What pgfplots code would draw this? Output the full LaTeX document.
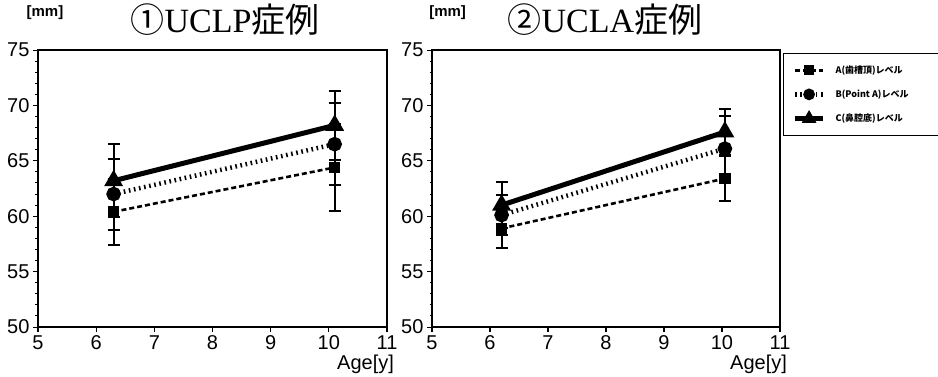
\documentclass[border=0pt]{standalone}
\usepackage{pgfplots}
\pgfplotsset{compat=1.18}
\usepackage{fontspec}
\setmainfont{Liberation Sans}
\newfontfamily\jp{Noto Sans CJK JP}
\newfontfamily\serif{Liberation Serif}
\begin{document}
\begin{tikzpicture}
\useasboundingbox (0pt,0pt) rectangle (938pt,376pt);
\pgfplotsset{
  myax/.style={
    scale only axis, width=349pt, height=277pt,
    xmin=5, xmax=11, ymin=50, ymax=75,
    xtick={5,6,...,11}, ytick={50,55,...,75},
    minor y tick num=4,
    tick label style={font=\fontsize{20}{20}\selectfont},
    /pgf/number format/assume math mode=true,
    xtick pos=bottom, ytick pos=left,
    xtick style={line width=1.2pt, black}, ytick style={line width=1pt,black},
    axis line style={line width=1.4pt},
    tick align=outside, major tick length=5pt, minor tick length=2.5pt,
    xlabel={Age[y]},
    xlabel style={at={(axis description cs:1.03,-0.088)}, anchor=north east, font=\fontsize{20}{20}\selectfont},
    clip=false,
  },
  serA/.style={black, line width=2.6pt, dash pattern=on 5pt off 3pt, mark=square*, mark size=4.5pt, mark options={solid},
     error bars/.cd, y dir=both, y explicit, error bar style={line width=2pt, solid}, error mark options={rotate=90, mark size=6pt, line width=2pt}},
  serB/.style={black, line width=4.5pt, dash pattern=on 1.6pt off 3.6pt, mark=*, mark size=5pt, mark options={solid},
     error bars/.cd, y dir=both, y explicit, error bar style={line width=2pt, solid}, error mark options={rotate=90, mark size=6pt, line width=2pt}},
  serC/.style={black, line width=5pt, mark=triangle*, mark size=6pt, mark options={solid},
     error bars/.cd, y dir=both, y explicit, error bar style={line width=2pt, solid}, error mark options={rotate=90, mark size=6pt, line width=2pt}},
}
% ---- Left: UCLP
\begin{axis}[myax, at={(38pt,49pt)}, anchor=south west,
  title={{\jp ①}{\serif UCLP}{\jp 症例}},
  title style={at={(axis description cs:0.536,1.018)}, anchor=south, font=\fontsize{34}{34}\selectfont},
]
\node[anchor=base, font=\fontsize{15}{15}\selectfont\bfseries] at (axis description cs:0.02,1.12) {[mm]};
\addplot+[serA] table[x=x,y=y,y error=e] {
x y e
6.3 60.4 3.0
10.1 64.4 3.9
};
\addplot+[serB] table[x=x,y=y,y error=e] {
x y e
6.3 62.0 3.2
10.1 66.5 3.7
};
\addplot+[serC] table[x=x,y=y,y error=e] {
x y e
6.3 63.2 3.3
10.1 68.2 3.1
};
\end{axis}
% ---- Right: UCLA
\begin{axis}[myax, at={(432pt,49pt)}, anchor=south west, width=348pt,
  title={{\jp ②}{\serif UCLA}{\jp 症例}},
  title style={at={(axis description cs:0.497,1.018)}, anchor=south, font=\fontsize{34}{34}\selectfont},
  legend style={at={(axis description cs:1.0086,0.989)}, anchor=north west, draw=black, line width=1.2pt,
     font=\fontsize{9}{9}\selectfont\jp\bfseries, row sep=11pt, inner xsep=9pt, inner ysep=10pt,
     legend cell align=left, /tikz/every odd column/.append style={column sep=8pt}},
  legend image code/.code={
     \draw[mark repeat=2,mark phase=2,#1] plot coordinates {(0pt,0pt) (14pt,0pt) (28pt,0pt)};},
  legend image post style={mark size=3.5pt},
]
\node[anchor=base, font=\fontsize{15}{15}\selectfont\bfseries] at (axis description cs:0.045,1.12) {[mm]};
\addplot+[serA] table[x=x,y=y,y error=e] {
x y e
6.2 58.9 1.8
10.05 63.4 2.0
};
\addlegendentry{\makebox[100pt][l]{A(歯槽頂)レベル}}
\addplot+[serB] table[x=x,y=y,y error=e] {
x y e
6.2 60.1 1.8
10.05 66.1 2.9
};
\addlegendentry{\makebox[100pt][l]{B(Point A)レベル}}
\addplot+[serC] table[x=x,y=y,y error=e] {
x y e
6.2 61.0 2.1
10.05 67.6 2.1
};
\addlegendentry{\makebox[100pt][l]{C(鼻腔底)レベル}}
\end{axis}
\end{tikzpicture}
\end{document}
